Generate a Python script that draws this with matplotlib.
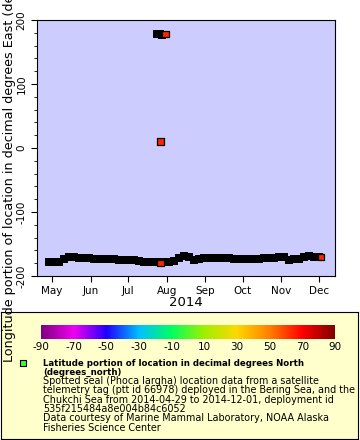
import numpy as np
import pandas as pd
import matplotlib
matplotlib.use("Agg")
import matplotlib.pyplot as plt
import matplotlib.dates as mdates
from matplotlib.colors import LinearSegmentedColormap

plt.rcParams['axes.unicode_minus'] = False

# 位置資料（每約 4 天一筆的經度，黑色軌跡）
track_dates = pd.to_datetime([
    "2014-04-29", "2014-05-03", "2014-05-07", "2014-05-11", "2014-05-15", "2014-05-19",
    "2014-05-23", "2014-05-27", "2014-05-31", "2014-06-04", "2014-06-08", "2014-06-12",
    "2014-06-16", "2014-06-20", "2014-06-24", "2014-06-28", "2014-07-02", "2014-07-06",
    "2014-07-10", "2014-07-14", "2014-07-18", "2014-07-22", "2014-07-26", "2014-07-30",
    "2014-08-03", "2014-08-07", "2014-08-11", "2014-08-15", "2014-08-19", "2014-08-23",
    "2014-08-27", "2014-08-31", "2014-09-04", "2014-09-08", "2014-09-12", "2014-09-16",
    "2014-09-20", "2014-09-24", "2014-09-28", "2014-10-02", "2014-10-06", "2014-10-10",
    "2014-10-14", "2014-10-18", "2014-10-22", "2014-10-26", "2014-10-30", "2014-11-03",
    "2014-11-07", "2014-11-11", "2014-11-15", "2014-11-19", "2014-11-23", "2014-11-27",
    "2014-12-01",
    "2014-07-24", "2014-07-27", "2014-07-28",
])
track_lon = [
    -178, -178, -177.5, -174, -171, -171,
    -171.5, -172, -172.5, -173, -173, -173,
    -173.5, -174, -174.5, -175, -175, -175.5,
    -177, -178, -178.5, -178.5, -178.5, -178.5,
    -178, -177, -172, -169.5, -170, -175,
    -174, -172, -172, -172, -172.5, -172,
    -172.5, -173, -173, -173, -173, -173,
    -173, -172.5, -172.5, -172, -170.5, -170,
    -175, -174, -173.5, -170, -169.5, -170,
    -170.5,
    178.5, 178.5, 177,
]

# 可見的彩色點（依緯度上色）
fix_dates = pd.to_datetime(["2014-07-27", "2014-07-27", "2014-07-31", "2014-12-03"])
fix_lon = [-180, 10, 178.5, -170]
fix_lat = [64, 64, 64, 64]

cbar_ticks = [-90, -70, -50, -30, -10, 10, 30, 50, 70, 90]

cmap = LinearSegmentedColormap.from_list("rainbow2", [
    "#800080", "#f000f0", "#2000ff", "#00c0ff", "#00ff60",
    "#a0f000", "#ffd800", "#ff8000", "#ff0000", "#800000"])

fig = plt.figure(figsize=(3.6, 4.4), dpi=100)

# 圖例框（放在最底層）
bg = fig.add_axes([0.5/360, 1/440, 357/360, 127/440], zorder=-1)
bg.set_facecolor("#ffffcc")
bg.set_xticks([])
bg.set_yticks([])
bg.set_xlim(0, 357)
bg.set_ylim(127, 0)

# 主圖
ax = fig.add_axes([37/360, 1 - 276/440, 298/360, 256/440])
ax.set_facecolor("#ccccff")
ax.scatter(track_dates, track_lon, marker="s", s=26, c="black", linewidths=0, zorder=2)
ax.scatter(fix_dates, fix_lon, marker="s", s=20, c=fix_lat, cmap=cmap, vmin=-90, vmax=90,
           edgecolors="black", linewidths=0.9, zorder=3)

ax.set_xlim(pd.Timestamp("2014-04-19"), pd.Timestamp("2014-12-14"))
ax.set_ylim(-200, 200)
ax.xaxis.set_major_locator(mdates.MonthLocator())
ax.xaxis.set_major_formatter(mdates.DateFormatter("%b"))
ax.set_yticks([-200, -100, 0, 100, 200])
ax.set_yticks(np.arange(-200, 201, 20), minor=True)
ax.tick_params(axis="both", labelsize=7.5, length=4)
ax.tick_params(axis="y", which="minor", length=2)
for lbl in ax.get_yticklabels():
    lbl.set_rotation(90)
    lbl.set_va("center")
ax.set_xlabel("2014", fontsize=9.5, labelpad=0)

fig.text(10/360, 1 - 362/440,
         "Longitude portion of location in decimal degrees East (degrees_east)",
         rotation=90, ha="center", va="bottom", fontsize=9.2)

# 色階
cax = fig.add_axes([41/360, 1 - 339/440, 294/360, 14/440])
grad = np.linspace(-90, 90, 256).reshape(1, -1)
cax.imshow(grad, aspect="auto", cmap=cmap, extent=[-90, 90, 0, 1])
cax.set_yticks([])
cax.set_xticks(cbar_ticks)
cax.tick_params(axis="x", length=0, labelsize=7.5, pad=2)
for s in cax.spines.values():
    s.set_visible(False)

bg.scatter([22], [51], marker="s", s=16, c="#33ff33", edgecolors="black", linewidths=0.8)

bg.text(42.5, 51, "Latitude portion of location in decimal degrees North",
        fontsize=6.25, fontweight="bold", va="center")
bg.text(42.5, 60, "(degrees_north)", fontsize=6.25, fontweight="bold", va="center")
lines = [
    "Spotted seal (Phoca largha) location data from a satellite",
    "telemetry tag (ptt id 66978) deployed in the Bering Sea, and the",
    "Chukchi Sea from 2014-04-29 to 2014-12-01, deployment id",
    "535f215484a8e004b84c6052",
    "Data courtesy of Marine Mammal Laboratory, NOAA Alaska",
    "Fisheries Science Center",
]
for i, t in enumerate(lines):
    bg.text(42.5, 69 + 9.3 * i, t, fontsize=6.9, va="center")

fig.savefig("out.png", dpi=100)
